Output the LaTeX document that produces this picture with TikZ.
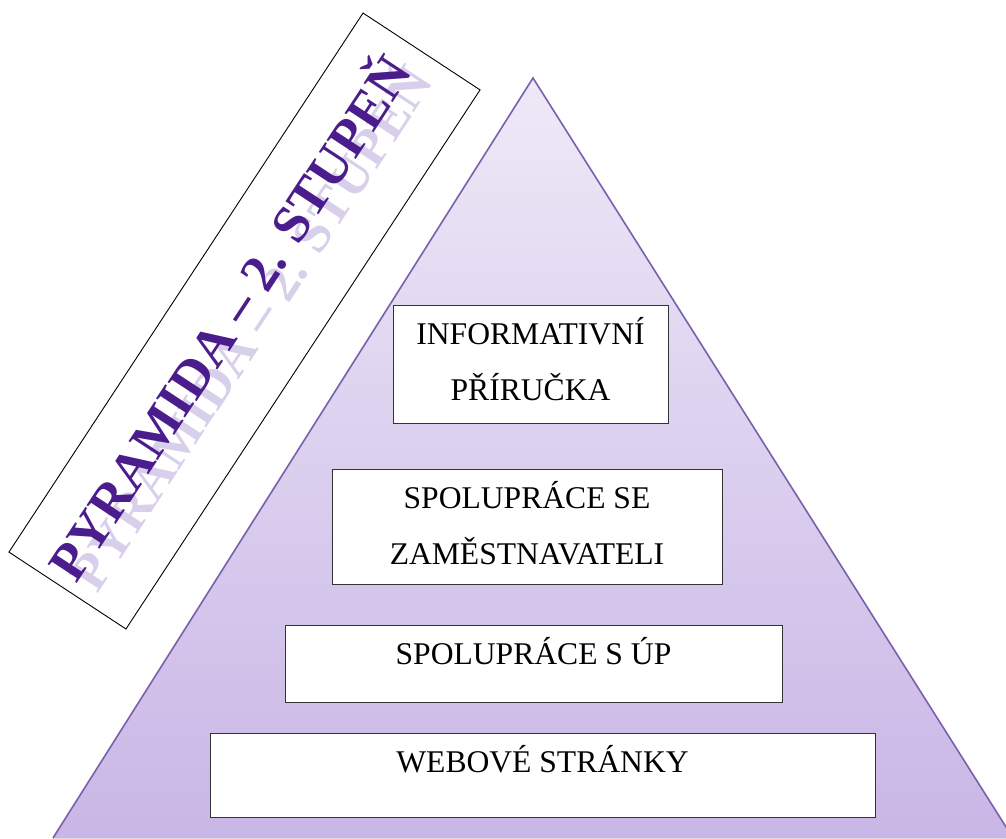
\documentclass[tikz,border=0pt]{standalone}
\usepackage{fontspec}
\setmainfont{Liberation Serif}
\definecolor{pyrTop}{HTML}{EEE9F7}
\definecolor{pyrBot}{HTML}{C9B6E6}
\definecolor{pyrLine}{HTML}{7A5FAD}
\definecolor{titlec}{HTML}{4A1C8C}
\definecolor{shadowc}{HTML}{B3A2D6}
\begin{document}
\begin{tikzpicture}[x=1pt,y=-1pt,
  boxstyle/.style={draw=black!80, line width=1.2pt, fill=white, inner sep=0pt, anchor=north west},
  lbl/.style={font=\fontsize{31.6pt}{55.5pt}\selectfont, align=center, inner sep=0pt, anchor=base},
  titlefont/.style={font=\fontsize{53pt}{53pt}\selectfont\bfseries, inner sep=0pt, anchor=base, rotate=56.7}]
\useasboundingbox (0,0) rectangle (1006,838);
% pyramid
\begin{scope}
\clip (0,0) rectangle (1006,838);
\coordinate (apex) at (533,78);
\coordinate (bl) at (53,838);
\coordinate (br) at (1013,838);
\fill[top color=pyrTop, bottom color=pyrBot] (apex) -- (bl) -- (br) -- cycle;
\draw[pyrLine, line width=1.6pt, line join=miter] (bl) -- (apex) -- (br);
\end{scope}
% title box
\node[draw=black, line width=0.9pt, fill=white, rotate=56.7, minimum width=645pt, minimum height=140pt, inner sep=0pt] (titlebox) at (244.5,321) {};
\node[titlefont, text=shadowc, opacity=0.5] (titleshadow) at (266,338) {PYRAMIDA – 2. STUPEŇ};
\node[titlefont, text=titlec] (title) at (245,328) {PYRAMIDA – 2. STUPEŇ};
% boxes
\node[boxstyle, minimum width=275pt, minimum height=118pt] (b1) at (393,305) {};
\node[boxstyle, minimum width=390pt, minimum height=115pt] (b2) at (332,469) {};
\node[boxstyle, minimum width=497pt, minimum height=77pt] (b3) at (285,625) {};
\node[boxstyle, minimum width=665pt, minimum height=84pt] (b4) at (210,733) {};
\node[lbl] (t1) at (530.5,400) {INFORMATIVNÍ\\PŘÍRUČKA};
\node[lbl] (t2) at (527,564) {SPOLUPRÁCE SE\\ZAMĚSTNAVATELI};
\node[lbl] (t3) at (533.5,664) {SPOLUPRÁCE S ÚP};
\node[lbl] (t4) at (542.5,772) {WEBOVÉ STRÁNKY};
\end{tikzpicture}
\end{document}
